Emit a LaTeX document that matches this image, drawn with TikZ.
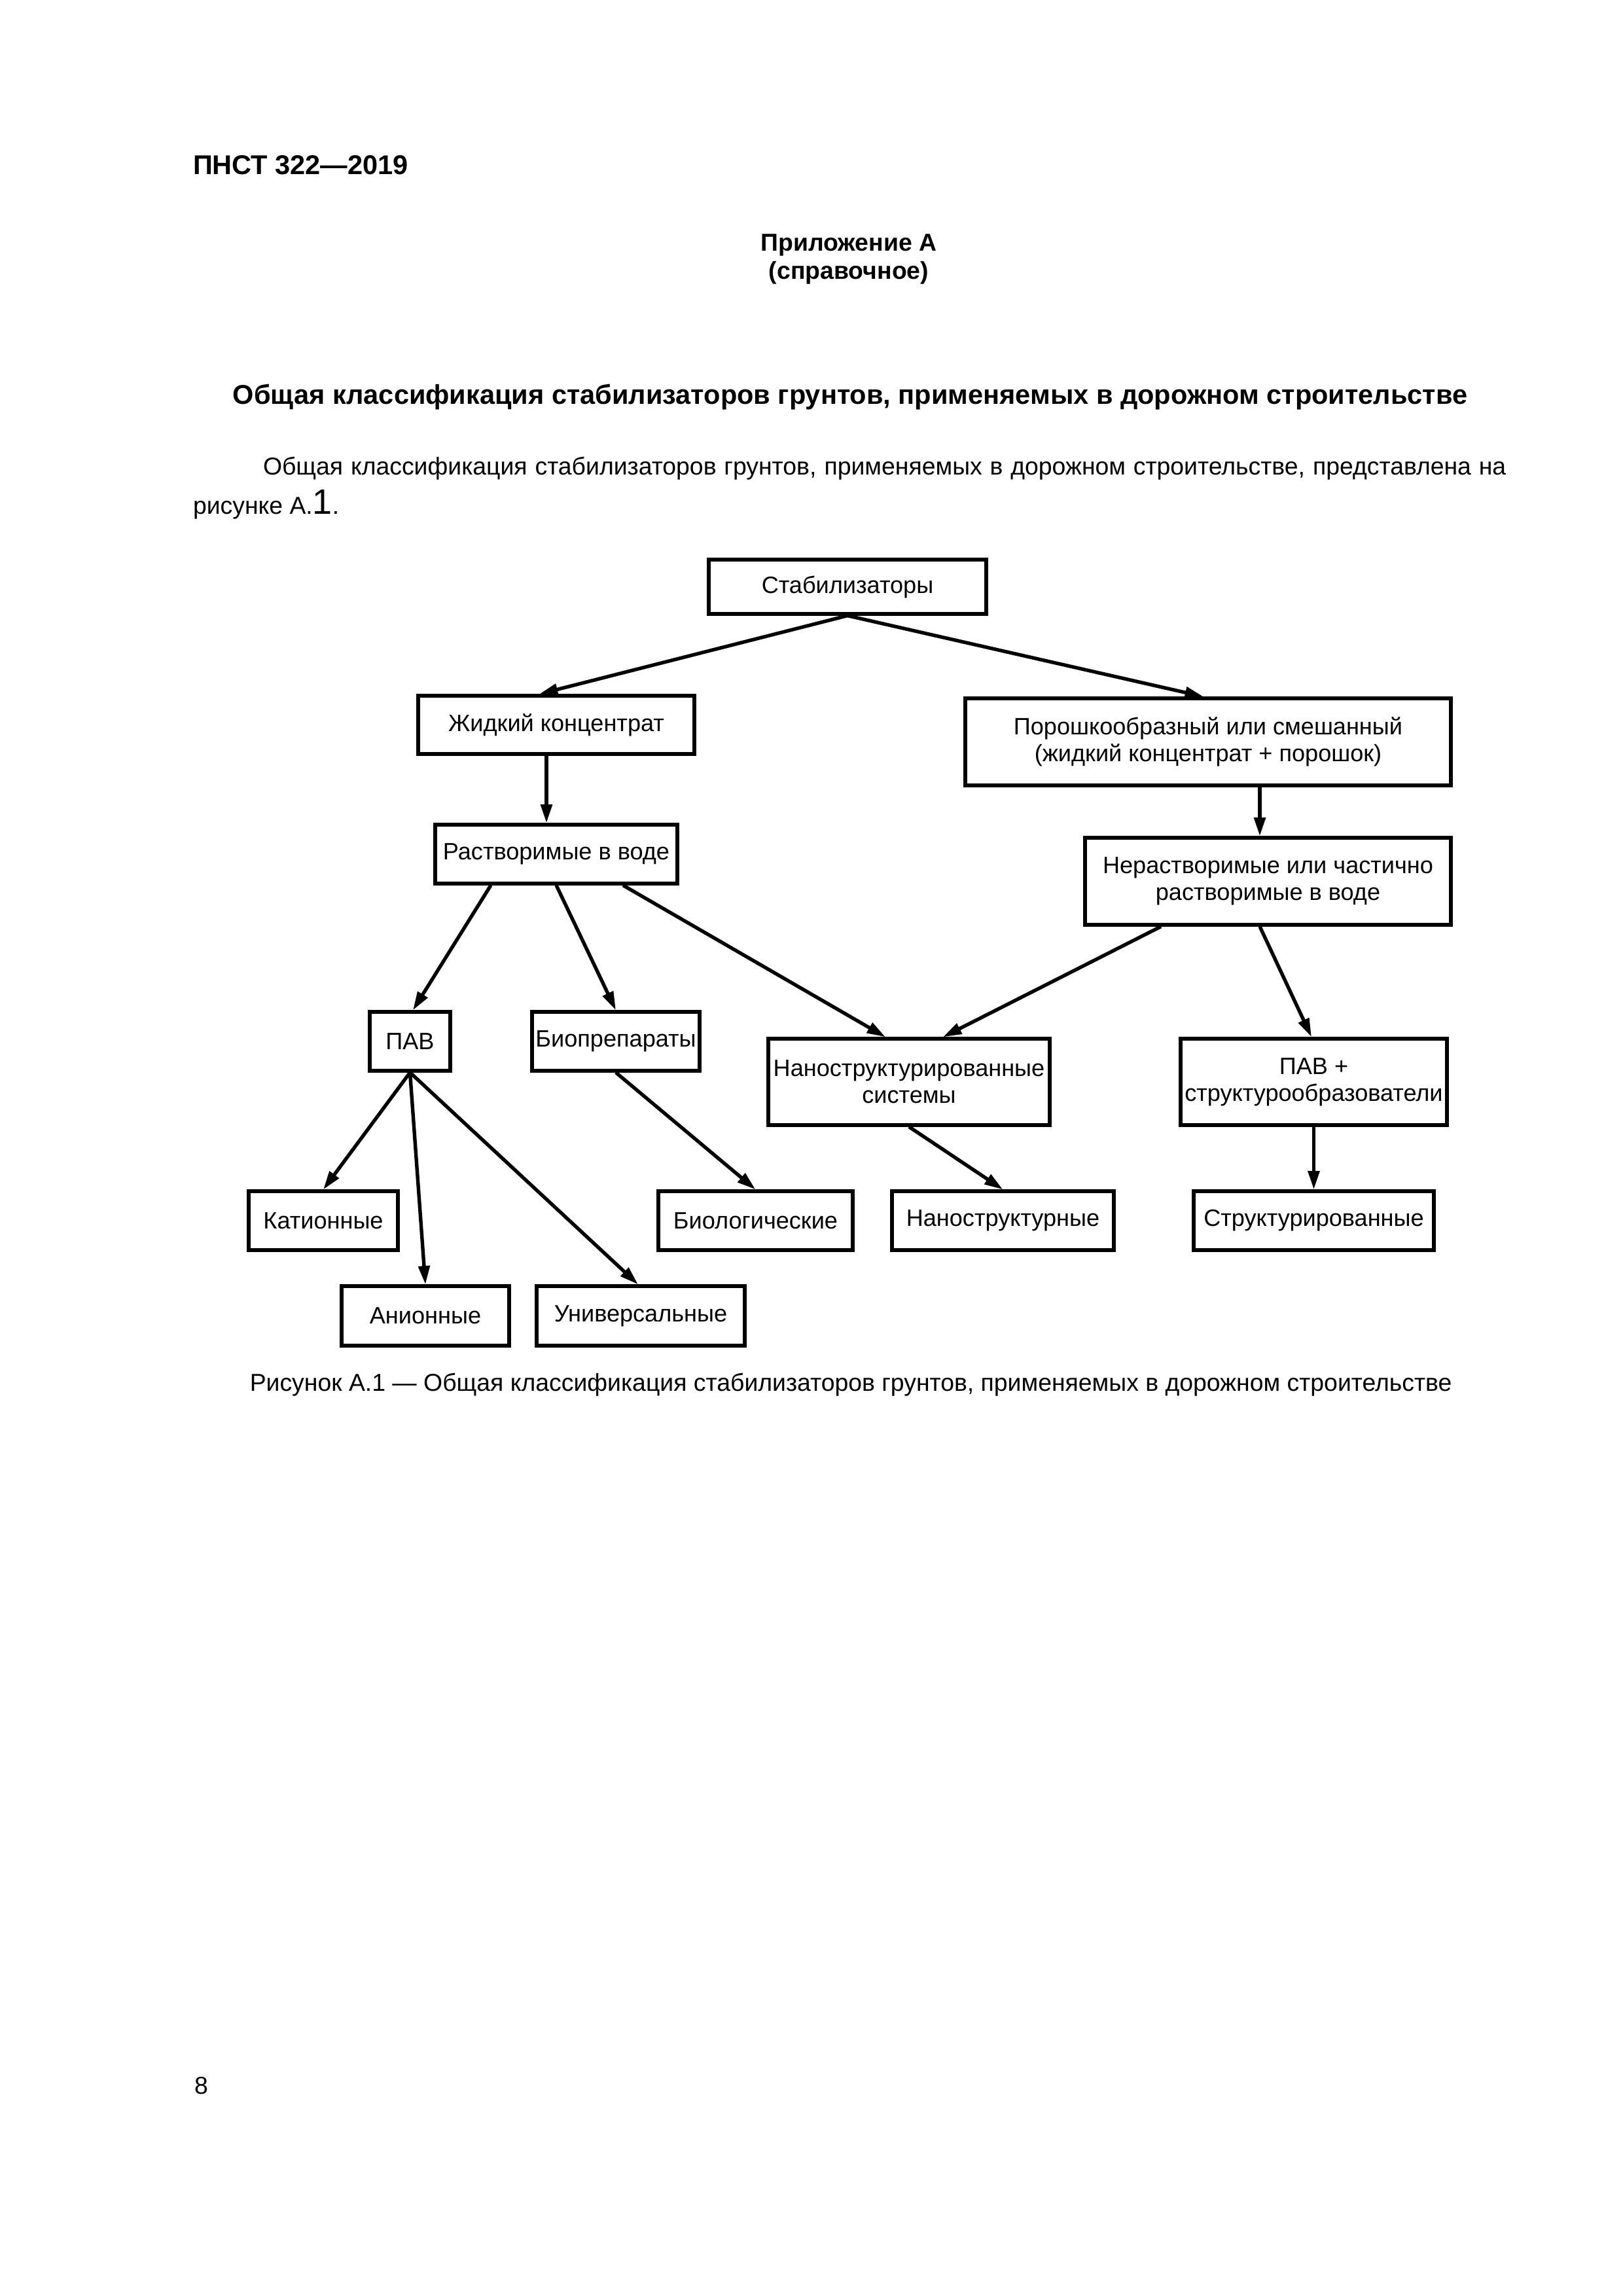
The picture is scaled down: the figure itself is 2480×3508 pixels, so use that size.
\documentclass[tikz,border=0pt]{standalone}
\usepackage{fontspec}
\setmainfont{Liberation Sans}
\usetikzlibrary{arrows.meta,calc}
\newlength\pxu
\setlength\pxu{0.0846774mm}
\newcommand\hdrfont{\fontsize{10pt}{12pt}\selectfont\bfseries}
\newcommand\appfont{\fontsize{9pt}{11pt}\selectfont\bfseries}
\newcommand\bodyfont{\fontsize{9pt}{11pt}\selectfont}
\newcommand\boxfont{\fontsize{8.7pt}{9.9pt}\selectfont}
\tikzset{
  txt/.style={inner sep=0pt, outer sep=0pt},
  box/.style={draw, line width=1.25pt, inner sep=0pt, align=center, font=\boxfont},
  arr/.style={-{Triangle[length=2.4mm,width=1.45mm]}, line width=1.3pt},
}
\begin{document}
\begin{tikzpicture}[x=0.0846774mm, y=-0.0846774mm]
\fill[white] (0,0) rectangle (2480,3508);
\useasboundingbox (0,0) rectangle (2480,3508);

% page texts
\node[txt, anchor=base west, font=\hdrfont] (hdr) at (295,266) {ПНСТ 322—2019};
\node[txt, anchor=base, font=\appfont] (app) at (1297,383) {Приложение А};
\node[txt, anchor=base, font=\appfont] (ref) at (1297,426) {(справочное)};
\node[txt, anchor=base, font=\hdrfont] (title) at (1299,617) {Общая классификация стабилизаторов грунтов, применяемых в дорожном строительстве};
\node[txt, anchor=base west, font=\bodyfont] (body1) at (402,725) {\makebox[160.8mm][s]{Общая классификация стабилизаторов грунтов, применяемых в дорожном строительстве, представлена на}};
\node[txt, anchor=base west, font=\bodyfont] (body2) at (295,785) {рисунке А.{\fontsize{13pt}{13pt}\selectfont 1}.};
\node[txt, anchor=base, font=\bodyfont] (cap) at (1300,2125) {Рисунок А.1 — Общая классификация стабилизаторов грунтов, применяемых в дорожном строительстве};
\node[txt, anchor=base west, font=\bodyfont] (pg) at (297,3199) {8};

% boxes
\node[box, minimum width=424\pxu, minimum height=83\pxu] (stab) at (1295,896.5) {Стабилизаторы};
\node[box, minimum width=422\pxu, minimum height=89\pxu] (zhid) at (850,1107.5) {Жидкий концентрат};
\node[box, minimum width=742\pxu, minimum height=133\pxu] (porosh) at (1846,1133.5) {Порошкообразный или смешанный\\(жидкий концентрат + порошок)};
\node[box, minimum width=370\pxu, minimum height=90\pxu] (rastv) at (850,1305) {Растворимые в воде};
\node[box, minimum width=559\pxu, minimum height=133\pxu] (nerastv) at (1937.5,1346.5) {Нерастворимые или частично\\растворимые в воде};
\node[box, minimum width=123\pxu, minimum height=90\pxu] (pav) at (626.5,1591) {ПАВ};
\node[box, minimum width=256\pxu, minimum height=90\pxu] (bio) at (941,1591) {Биопрепараты};
\node[box, minimum width=430\pxu, minimum height=132\pxu] (nano) at (1389,1653) {Наноструктурированные\\системы};
\node[box, minimum width=407\pxu, minimum height=132\pxu] (pavs) at (2007.5,1653) {ПАВ +\\структурообразователи};
\node[box, minimum width=228\pxu, minimum height=90\pxu] (kation) at (494,1865) {Катионные};
\node[box, minimum width=297\pxu, minimum height=90\pxu] (biol) at (1154.5,1865) {Биологические};
\node[box, minimum width=339\pxu, minimum height=90\pxu] (nanostr) at (1532.5,1865) {Наноструктурные};
\node[box, minimum width=367\pxu, minimum height=90\pxu] (struct) at (2007.5,1865) {Структурированные};
\node[box, minimum width=256\pxu, minimum height=91\pxu] (anion) at (650,2010.5) {Анионные};
\node[box, minimum width=318\pxu, minimum height=91\pxu] (univ) at (979,2010.5) {Универсальные};

% connectors
\draw[arr] (stab.south) -- ($(zhid.north)+(-26,0)$);
\draw[arr] (stab.south) -- ($(porosh.north)+(-7,0)$);
\draw[arr] ($(zhid.south)+(-15,0)$) -- ($(rastv.north)+(-15,0)$);
\draw[arr] ($(porosh.south)+(79,0)$) -- ($(nerastv.north)+(-12.5,0)$);
\draw[arr] ($(rastv.south)+(-100,0)$) -- ($(pav.north)+(4.5,0)$);
\draw[arr] (rastv.south) -- (bio.north);
\draw[arr] ($(rastv.south)+(102,0)$) -- ($(nano.north)+(-36,0)$);
\draw[arr] ($(nerastv.south)+(-163.5,0)$) -- ($(nano.north)+(52,0)$);
\draw[arr] ($(nerastv.south)+(-12.5,0)$) -- ($(pavs.north)+(-3.5,0)$);
\draw[arr] (pav.south) -- (kation.north);
\draw[arr] (pav.south) -- (anion.north);
\draw[arr] (pav.south) -- ($(univ.north)+(-4,0)$);
\draw[arr] (bio.south) -- (biol.north);
\draw[arr] (nano.south) -- (nanostr.north);
\draw[arr] (pavs.south) -- (struct.north);
\end{tikzpicture}
\end{document}
